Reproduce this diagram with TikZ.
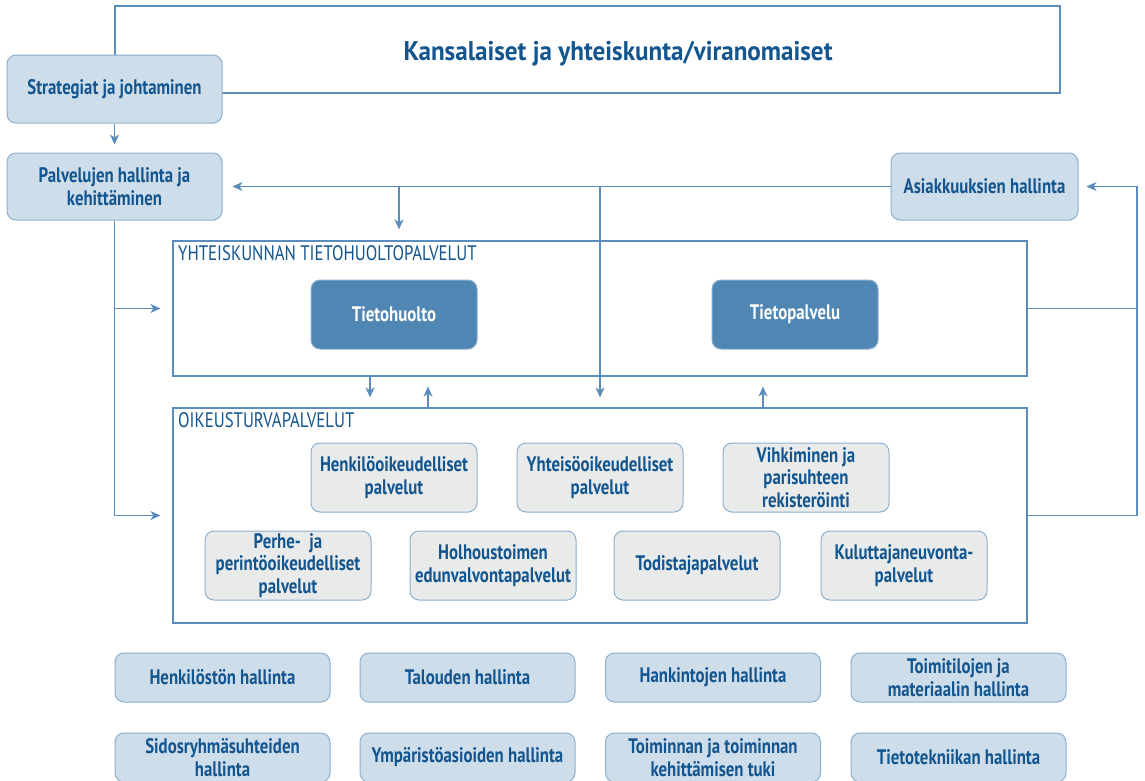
\documentclass[tikz,border=0pt]{standalone}
\usepackage{fontspec}
\setmainfont{PT Sans}[FakeStretch=0.8]
\newfontfamily\titlefont{PT Sans}[FakeStretch=0.93]
\usetikzlibrary{arrows.meta}
\definecolor{txt}{HTML}{13558F}
\definecolor{ln}{HTML}{5B8DBC}
\definecolor{bd}{HTML}{8DB0CF}
\definecolor{lb}{HTML}{CEDDEA}
\definecolor{db}{HTML}{4F86B4}
\definecolor{gr}{HTML}{E9EBEB}
\tikzset{
  box/.style={draw=bd, line width=1pt, rounded corners=9pt, text=txt, align=center, inner sep=0pt,
    font=\bfseries\fontsize{21}{22.5}\selectfont},
  mgmt/.style={box, fill=lb, minimum width=215pt, minimum height=67pt},
  small/.style={box, fill=lb, minimum width=215pt, minimum height=49pt},
  dark/.style={box, fill=db, text=white, minimum width=166pt, minimum height=69pt},
  grey/.style={box, fill=gr, minimum width=166pt, minimum height=69pt},
  cont/.style={draw=ln, line width=1.2pt, inner sep=0pt},
  contlabel/.style={text=txt, font=\fontsize{21}{22}\selectfont, anchor=north west, inner sep=0pt},
  arr/.style={draw=ln, line width=1.2pt, -{Stealth[length=10pt,width=9pt,inset=3pt]}},
  conn/.style={draw=ln, line width=1.2pt}
}
\begin{document}
\begin{tikzpicture}[x=1pt,y=-1pt]
\useasboundingbox[fill=white] (0,0) rectangle (1145,780);

% top box
\node[cont, minimum width=945pt, minimum height=87pt] (top) at (587.5,49.5) {};
\node[text=txt, font=\titlefont\bfseries\fontsize{27}{30}\selectfont, inner sep=0pt] (toptitle) at (618,54) {Kansalaiset ja yhteiskunta/viranomaiset};

% management boxes
\node[mgmt, minimum height=68pt] (strat) at (114.5,89) {Strategiat ja johtaminen};
\node[mgmt] (palv) at (114.5,186.5) {Palvelujen hallinta ja\\kehittäminen};
\node[mgmt, minimum width=187pt] (asiak) at (984.5,186.5) {Asiakkuuksien hallinta};

% containers
\node[cont, minimum width=854pt, minimum height=135pt] (yht) at (600,308.5) {};
\node[contlabel] (yhtlab) at (178,245) {YHTEISKUNNAN TIETOHUOLTOPALVELUT};
\node[dark] (tieto) at (394,314.5) {Tietohuolto};
\node[dark] (tpalv) at (795,314.5) {Tietopalvelu};

\node[cont, minimum width=854pt, minimum height=215pt] (oik) at (600,515.5) {};
\node[contlabel] (oiklab) at (178,412) {OIKEUSTURVAPALVELUT};
\node[grey] (henk) at (394,477.5) {Henkilöoikeudelliset\\palvelut};
\node[grey] (yhte) at (600,477.5) {Yhteisöoikeudelliset\\palvelut};
\node[grey] (vihk) at (806,477.5) {Vihkiminen ja\\parisuhteen\\rekisteröinti};
\node[grey] (perhe) at (288,565.5) {Perhe-\ \ ja\\perintöoikeudelliset\\palvelut};
\node[grey] (holh) at (493,565.5) {Holhoustoimen\\edunvalvontapalvelut};
\node[grey] (todi) at (697,565.5) {Todistajapalvelut};
\node[grey] (kulu) at (904,565.5) {Kuluttajaneuvonta-\\palvelut};

% bottom support boxes
\node[small] (hlo) at (222.5,677.5) {Henkilöstön hallinta};
\node[small] (tal) at (467.5,677.5) {Talouden hallinta};
\node[small] (hank) at (713,677.5) {Hankintojen hallinta};
\node[small] (toimi) at (958.5,677.5) {Toimitilojen ja\\materiaalin hallinta};
\node[small] (sido) at (222.5,757.5) {Sidosryhmäsuhteiden\\hallinta};
\node[small] (ymp) at (467.5,757.5) {Ympäristöasioiden hallinta};
\node[small] (toim) at (713,757.5) {Toiminnan ja toiminnan\\kehittämisen tuki};
\node[small] (tt) at (958.5,757.5) {Tietotekniikan hallinta};

% connectors
\draw[arr, shorten >=8pt] (strat.south) -- (palv.north);
\draw[arr, shorten >=10pt] (asiak.west) -- (palv.east);
\coordinate (j1) at (399,186.5);
\coordinate (j2) at (600,186.5);
\draw[arr, shorten >=11pt] (j1) -- (j1 |- yht.north);
\draw[arr, shorten >=10pt] (j2) -- (j2 |- oik.north);
\coordinate (d1) at (370,376);
\coordinate (u1) at (428,408);
\coordinate (u2) at (763,408);
\draw[arr, shorten >=10pt] (d1 |- yht.south) -- (d1 |- oik.north);
\draw[arr, shorten >=10pt] (u1 |- oik.north) -- (u1 |- yht.south);
\draw[arr, shorten >=10pt] (u2 |- oik.north) -- (u2 |- yht.south);
% left side
\draw[arr, shorten >=12pt] (palv.south) |- (oik.west);
\draw[arr, shorten >=12pt] (palv.south |- yht.west) -- (yht.west);
% right side
\coordinate (r) at (1137,186.5);
\draw[arr, shorten >=8pt] (oik.east) -| (r) -- (asiak.east);
\draw[conn] (yht.east) -- (yht.east -| r);
\end{tikzpicture}
\end{document}
